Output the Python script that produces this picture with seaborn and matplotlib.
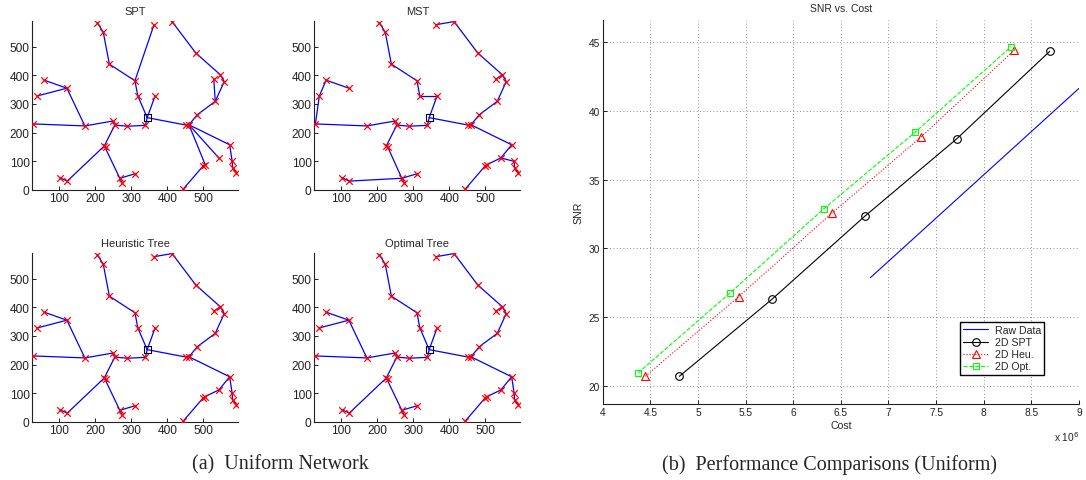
import numpy as np
import pandas as pd
import matplotlib
matplotlib.use("Agg")
import matplotlib.pyplot as plt
import seaborn as sns

# ---------------- data: sensor network (uniform) ----------------
node_x = [344, 28, 171, 39, 58, 121, 206, 222, 239, 310, 318, 366, 339, 289, 254, 248,
          225, 229, 102, 122, 268, 275, 311, 363, 413, 479, 547, 529, 558, 533, 483,
          452, 460, 573, 543, 500, 505, 580, 581, 592, 444]
node_y = [252, 230, 223, 328, 383, 355, 583, 551, 439, 381, 328, 328, 225, 222, 226, 240,
          153, 149, 42, 30, 40, 23, 56, 577, 588, 478, 402, 386, 378, 309, 262,
          226, 227, 157, 111, 84, 88, 99, 77, 59, 2]
sink = 0

spt_edges = [(0, 12), (12, 13), (13, 14), (14, 15), (15, 2), (2, 1), (2, 5), (5, 4), (5, 3),
             (14, 16), (16, 17), (16, 19), (19, 18), (16, 20), (20, 22), (20, 21),
             (0, 10), (10, 9), (9, 23), (9, 8), (8, 7), (7, 6), (0, 11),
             (0, 31), (31, 32), (32, 30), (30, 29), (29, 27), (29, 28), (28, 26), (26, 25),
             (25, 24), (32, 33), (33, 37), (37, 38), (38, 39), (32, 34), (32, 36), (36, 35),
             (35, 40)]
mst_edges = [(1, 3), (3, 4), (4, 5), (1, 2), (2, 15), (15, 14), (14, 13), (13, 12), (12, 0),
             (14, 16), (16, 17), (17, 20), (20, 22), (20, 21), (20, 19), (19, 18),
             (0, 11), (11, 10), (10, 9), (9, 8), (8, 7), (7, 6),
             (0, 31), (31, 32), (32, 30), (30, 29), (29, 28), (28, 26), (26, 27), (26, 25),
             (25, 24), (24, 23), (32, 33), (33, 34), (34, 36), (36, 35), (35, 40), (34, 37),
             (37, 38), (38, 39)]
heu_edges = [(1, 2), (2, 5), (5, 4), (5, 3), (2, 15), (15, 14), (14, 13), (13, 12), (12, 0),
             (14, 16), (16, 17), (16, 19), (19, 18), (16, 20), (20, 22), (20, 21),
             (0, 10), (10, 9), (9, 8), (8, 7), (7, 6), (0, 11),
             (23, 24), (24, 25), (25, 26), (26, 28), (28, 29), (29, 30), (30, 32), (32, 31),
             (31, 0), (26, 27), (32, 33), (33, 34), (34, 36), (36, 35), (35, 40), (33, 37),
             (37, 38), (38, 39)]
opt_edges = list(heu_edges)

panel_titles = ["SPT", "MST", "Heuristic Tree", "Optimal Tree"]

# ---------------- data: SNR vs cost ----------------
raw_cost = [6.81e6, 9.0e6]
raw_snr = [27.86, 41.65]
spt_cost = [4.805e6, 5.777e6, 6.750e6, 7.719e6, 8.692e6]
spt_snr = [20.68, 26.29, 32.33, 37.99, 44.34]
heu_cost = [4.448e6, 5.428e6, 6.404e6, 7.338e6, 8.321e6]
heu_snr = [20.68, 26.48, 32.55, 38.08, 44.44]
opt_cost = [4.371e6, 5.340e6, 6.323e6, 7.282e6, 8.286e6]
opt_snr = [20.92, 26.77, 32.89, 38.47, 44.68]
series_names = ["Raw Data", "2D SPT", "2D Heu.", "2D Opt."]

# ---------------- styling ----------------
sns.set_theme(style="white")
plt.rcParams["font.family"] = ["Liberation Sans", "DejaVu Sans"]
plt.rcParams["xtick.direction"] = "in"
plt.rcParams["ytick.direction"] = "in"

W, H = 1086, 481
fig = plt.figure(figsize=(W / 100, H / 100), dpi=100)


def px_axes(l, t, r, b):
    return fig.add_axes([l / W, 1 - b / H, (r - l) / W, (b - t) / H])


def style_axes(ax, fs=7.2):
    for s in ["top", "right"]:
        ax.spines[s].set_visible(False)
    for s in ["left", "bottom"]:
        ax.spines[s].set_color("#222222")
        ax.spines[s].set_linewidth(0.8)
    ax.tick_params(axis="both", length=3, width=0.7, colors="#222222",
                   labelsize=fs, pad=2, bottom=True, left=True)


panel_boxes = [(32.3, 21.7, 238.3, 190.7), (314.3, 21.7, 520.3, 190.7),
               (32.3, 253.7, 238.3, 422.7), (314.3, 253.7, 520.3, 422.7)]
all_edges = [spt_edges, mst_edges, heu_edges, opt_edges]

for box, edges, title in zip(panel_boxes, all_edges, panel_titles):
    ax = px_axes(*box)
    rows = []
    for k, (a, b) in enumerate(edges):
        rows.append({"seg": k, "x": node_x[a], "y": node_y[a]})
        rows.append({"seg": k, "x": node_x[b], "y": node_y[b]})
    edf = pd.DataFrame(rows)
    sns.lineplot(data=edf, x="x", y="y", units="seg", estimator=None, sort=False,
                 color="blue", lw=0.9, ax=ax, legend=False)
    nx = [v for i, v in enumerate(node_x) if i != sink]
    ny = [v for i, v in enumerate(node_y) if i != sink]
    sns.scatterplot(x=nx, y=ny, marker="x", color="red", s=22, linewidth=0.9,
                    ax=ax, legend=False, zorder=3)
    ax.scatter([node_x[sink]], [node_y[sink]], marker="s", s=24, facecolor="none",
               edgecolor="black", linewidth=0.8, zorder=4)
    ax.set_xlim(25, 597)
    ax.set_ylim(0, 591)
    ax.set_xticks([100, 200, 300, 400, 500])
    ax.set_yticks([0, 100, 200, 300, 400, 500])
    ax.set_xlabel("")
    ax.set_ylabel("")
    ax.set_title(title, fontsize=8, pad=5)
    style_axes(ax, fs=8.6)

# ---------------- right chart ----------------
ax = px_axes(602.7, 20.7, 1079.0, 405.3)
to_m = lambda v: [c / 1e6 for c in v]
sns.lineplot(x=to_m(raw_cost), y=raw_snr, color="blue", lw=0.8, ax=ax,
             label=series_names[0], sort=False)
sns.lineplot(x=to_m(spt_cost), y=spt_snr, color="black", lw=0.8, marker="o",
             markersize=5.5, markerfacecolor="none", markeredgecolor="black",
             markeredgewidth=0.8, ax=ax, label=series_names[1], sort=False)
sns.lineplot(x=to_m(heu_cost), y=heu_snr, color="red", lw=0.8, linestyle=":",
             marker="^", markersize=6, markerfacecolor="none", markeredgecolor="red",
             markeredgewidth=0.8, ax=ax, label=series_names[2], sort=False)
sns.lineplot(x=to_m(opt_cost), y=opt_snr, color="#00ff00", lw=0.8, linestyle="--",
             marker="s", markersize=4.5, markerfacecolor="none", markeredgecolor="#00ff00",
             markeredgewidth=0.8, ax=ax, label=series_names[3], sort=False)
ax.set_xlim(4, 9)
ax.set_ylim(18.64, 46.65)
ax.set_xticks([4, 4.5, 5, 5.5, 6, 6.5, 7, 7.5, 8, 8.5, 9])
ax.set_xticklabels(["4", "4.5", "5", "5.5", "6", "6.5", "7", "7.5", "8", "8.5", "9"])
ax.set_yticks([20, 25, 30, 35, 40, 45])
ax.grid(True, linestyle=(0, (1, 3)), color="#666666", lw=0.6)
ax.set_xlabel("Cost", fontsize=7.6, labelpad=2)
ax.set_ylabel("SNR", fontsize=7.6, labelpad=4)
ax.set_title("SNR vs. Cost", fontsize=7.5, pad=6)
style_axes(ax, fs=7.3)
ax.text(1.0, -0.065, r"x 10$^6$", transform=ax.transAxes, ha="right", va="top",
        fontsize=7.3, color="#222222")
leg = ax.legend(loc="upper left", bbox_to_anchor=(0.75, 0.214), fontsize=7.6,
                frameon=True, fancybox=False, framealpha=1, edgecolor="black",
                borderpad=0.3, labelspacing=0.2, handlelength=2.4,
                handletextpad=0.6, borderaxespad=0)
leg.get_frame().set_linewidth(1.0)

# ---------------- captions ----------------
fig.text(280 / W, 1 - 465 / H, "(a)  Uniform Network", ha="center", va="center",
         fontsize=14.5, family="Liberation Serif")
fig.text(830 / W, 1 - 465 / H, "(b)  Performance Comparisons (Uniform)", ha="center",
         va="center", fontsize=14.5, family="Liberation Serif")

fig.savefig("out.png", dpi=100)
